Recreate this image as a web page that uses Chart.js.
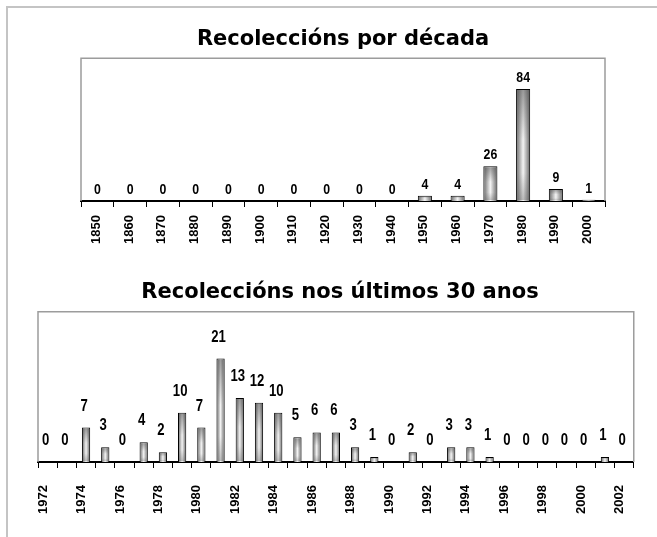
<!DOCTYPE html>
<html>
<head>
<meta charset="utf-8">
<script src="https://cdn.jsdelivr.net/npm/chart.js@4.4.1/dist/chart.umd.min.js"></script>
<style>
  html, body { margin: 0; padding: 0; background: #fff; }
  #wrap { position: relative; width: 657px; height: 537px; overflow: hidden; }
  #frame { position: absolute; left: 6px; top: 6px; width: 660px; height: 540px;
           border-left: 2px solid #c4c4c4; border-top: 2px solid #c4c4c4; }
  canvas { position: absolute; left: 0; }
  #decadas { top: 0; }
  #anos { top: 265px; }
</style>
</head>
<body>
<div id="wrap">
  <div id="frame"></div>
  <canvas id="decadas" width="657" height="265"></canvas>
  <canvas id="anos" width="657" height="272"></canvas>
</div>
<script>
/* -----------------------
data
-------------------------- */
const decades = ['1850', '1860', '1870', '1880', '1890', '1900', '1910', '1920',
                 '1930', '1940', '1950', '1960', '1970', '1980', '1990', '2000'];
const decadeCounts = [0, 0, 0, 0, 0, 0, 0, 0, 0, 0, 4, 4, 26, 84, 9, 1];

const years = ['1972', '1973', '1974', '1975', '1976', '1977', '1978', '1979', '1980', '1981',
               '1982', '1983', '1984', '1985', '1986', '1987', '1988', '1989', '1990', '1991',
               '1992', '1993', '1994', '1995', '1996', '1997', '1998', '1999', '2000', '2001', '2002'];
const yearCounts = [0, 0, 7, 3, 0, 4, 2, 10, 7, 21, 13, 12, 10, 5, 6, 6, 3, 1, 0, 2,
                    0, 3, 3, 1, 0, 0, 0, 0, 0, 1, 0];

const BAR_PCT = 0.43;
const TITLE_FONT = { family: '"DejaVu Sans", Verdana, sans-serif', size: 21, weight: 'bold' };
const TICK_FONT = { family: '"Liberation Sans", Arial, sans-serif', size: 13, weight: 'bold' };

/* -----------------------
helpers
-------------------------- */
// cylinder-like fill: dark edges, light centre
function barFill(context) {
  const chart = context.chart;
  const area = chart.chartArea;
  if (!area) return '#bbbbbb';
  const n = chart.data.labels.length;
  const cx = chart.scales.x.getPixelForValue(context.dataIndex);
  const half = (area.right - area.left) / n * BAR_PCT / 2;
  const g = chart.ctx.createLinearGradient(cx - half, 0, cx + half, 0);
  g.addColorStop(0, '#666666');
  g.addColorStop(0.5, '#f4f4f4');
  g.addColorStop(1, '#666666');
  return g;
}

// grey box round the plot area (bottom side is the axis)
const plotFrame = {
  id: 'plotFrame',
  beforeDatasetsDraw(chart) {
    const { ctx, chartArea: a } = chart;
    ctx.save();
    ctx.strokeStyle = '#9c9c9c';
    ctx.lineWidth = 1.5;
    ctx.beginPath();
    ctx.moveTo(a.left, a.bottom);
    ctx.lineTo(a.left, a.top);
    ctx.lineTo(a.right, a.top);
    ctx.lineTo(a.right, a.bottom);
    ctx.stroke();
    ctx.restore();
  }
};

// darker top / bottom of each bar, so the fill reads as "from centre"
const barShade = {
  id: 'barShade',
  afterDatasetsDraw(chart) {
    const ctx = chart.ctx;
    ctx.save();
    chart.getDatasetMeta(0).data.forEach((bar) => {
      const h = bar.base - bar.y;
      if (h < 3) return;
      const left = bar.x - bar.width / 2 + 1;
      const g = ctx.createLinearGradient(0, bar.y, 0, bar.base);
      g.addColorStop(0, 'rgba(80,80,80,0.55)');
      g.addColorStop(0.45, 'rgba(80,80,80,0)');
      g.addColorStop(0.75, 'rgba(80,80,80,0)');
      g.addColorStop(1, 'rgba(80,80,80,0.35)');
      ctx.fillStyle = g;
      ctx.fillRect(left, bar.y + 1, bar.width - 2, h - 2);
    });
    ctx.restore();
  }
};

// value above every bar (narrow bold, like Arial Narrow)
const valueLabels = {
  id: 'valueLabels',
  afterDatasetsDraw(chart, args, opts) {
    const ctx = chart.ctx;
    const values = chart.data.datasets[0].data;
    ctx.save();
    ctx.font = 'bold ' + opts.size + 'px "Liberation Sans", Arial, sans-serif';
    ctx.fillStyle = '#000';
    ctx.textAlign = 'center';
    ctx.textBaseline = 'alphabetic';
    chart.getDatasetMeta(0).data.forEach((bar, i) => {
      ctx.save();
      ctx.translate(bar.x + opts.shift, bar.y - opts.gap);
      ctx.scale(0.82, 1);
      ctx.fillText(values[i], 0, 0);
      ctx.restore();
    });
    ctx.restore();
  }
};

function makeChart(id, labels, values, cfg) {
  return new Chart(document.getElementById(id), {
    type: 'bar',
    data: {
      labels: labels,
      datasets: [{
        data: values,
        backgroundColor: barFill,
        borderColor: '#000',
        borderWidth: 1,
        categoryPercentage: 1,
        barPercentage: BAR_PCT
      }]
    },
    options: {
      responsive: false,
      animation: false,
      layout: { padding: cfg.padding },
      plugins: {
        legend: { display: false },
        tooltip: { enabled: false },
        title: {
          display: true,
          text: cfg.title,
          color: '#000',
          font: TITLE_FONT,
          padding: cfg.titlePadding
        },
        valueLabels: { gap: cfg.gap, size: cfg.valueSize, shift: cfg.valueShift }
      },
      scales: {
        x: {
          afterFit: (scale) => { scale.height = cfg.axisHeight; },
          grid: {
            drawOnChartArea: false,
            drawTicks: true,
            tickLength: 6,
            tickColor: '#000',
            tickWidth: 1
          },
          border: { display: true, color: '#000', width: 2 },
          ticks: {
            color: '#000',
            font: TICK_FONT,
            autoSkip: false,
            minRotation: 90,
            maxRotation: 90,
            padding: cfg.tickPadding,
            labelOffset: cfg.labelOffset,
            callback: cfg.tickText
          }
        },
        y: { display: false, min: 0, max: cfg.yMax }
      }
    },
    plugins: [plotFrame, barShade, valueLabels]
  });
}

/* -----------------------
decades chart
-------------------------- */
makeChart('decadas', decades, decadeCounts, {
  title: 'Recoleccións por década',
  padding: { left: 81, right: 52, top: 0, bottom: 0 },
  titlePadding: { top: 27, bottom: 6 },
  axisHeight: 64,
  tickPadding: 8,
  labelOffset: -1,
  gap: 7,
  valueSize: 15,
  valueShift: 0,
  yMax: 107,
  tickText: function (v, i) { return decades[i]; }
});

/* -----------------------
last 30 years chart
-------------------------- */
makeChart('anos', years, yearCounts, {
  title: 'Recoleccións nos últimos 30 anos',
  padding: { left: 38, right: 15, top: 0, bottom: 0 },
  titlePadding: { top: 14.5, bottom: 7 },
  axisHeight: 75,
  tickPadding: 17,
  labelOffset: -4.5,
  gap: 17,
  valueSize: 16,
  valueShift: -2,
  yMax: 30.5,
  tickText: function (v, i) { return i % 2 ? '' : years[i]; }
});
</script>
</body>
</html>
